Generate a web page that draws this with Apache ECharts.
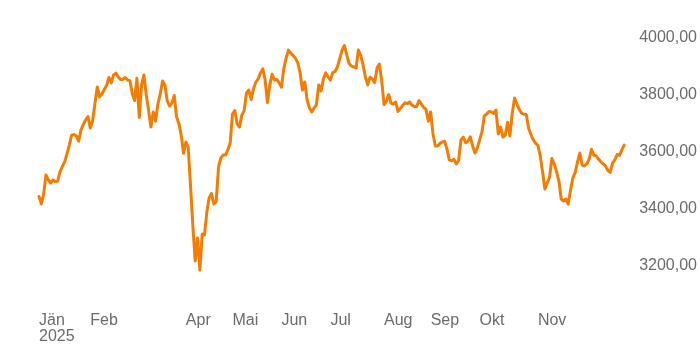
<!DOCTYPE html>
<html>
<head>
<meta charset="utf-8">
<script src="https://cdn.jsdelivr.net/npm/echarts@6/dist/echarts.min.js"></script>
<style>
  html, body { margin: 0; padding: 0; background: #ffffff; }
  #chart { width: 700px; height: 350px; }
</style>
</head>
<body>
<div id="chart"></div>
<script>
// Daily closing values, one per trading day of 2025
const closes = [
  3443, 3417, 3452, 3518, 3501, 3490, 3501, 3495, 3497, 3529,
  3548, 3564, 3592, 3623, 3658, 3660, 3655, 3637, 3676, 3695,
  3711, 3723, 3683, 3708, 3769, 3827, 3792, 3802, 3818, 3832,
  3860, 3841, 3869, 3875, 3862, 3853, 3853, 3860, 3851, 3849,
  3804, 3779, 3857, 3720, 3834, 3869, 3799, 3746, 3686, 3739,
  3707, 3767, 3802, 3848, 3834, 3778, 3760, 3770, 3797, 3722,
  3699, 3658, 3594, 3634, 3615, 3480, 3339, 3217, 3297, 3185,
  3311, 3308, 3389, 3438, 3453, 3417, 3424, 3546, 3578, 3588,
  3588, 3606, 3630, 3732, 3744, 3697, 3686, 3728, 3744, 3806,
  3816, 3783, 3820, 3844, 3855, 3876, 3890, 3851, 3772, 3834,
  3871, 3851, 3853, 3841, 3826, 3890, 3928, 3956, 3946, 3937,
  3928, 3911, 3876, 3816, 3844, 3781, 3753, 3739, 3753, 3765,
  3834, 3813, 3855, 3876, 3862, 3851, 3877, 3881, 3897, 3926,
  3956, 3972, 3939, 3909, 3900, 3897, 3893, 3956, 3937, 3904,
  3862, 3834, 3861, 3854, 3842, 3893, 3907, 3849, 3765, 3777,
  3800, 3770, 3767, 3774, 3741, 3751, 3762, 3771, 3769, 3774,
  3763, 3758, 3758, 3779, 3767, 3755, 3748, 3707, 3739, 3662,
  3620, 3620, 3629, 3634, 3636, 3609, 3571, 3568, 3573, 3557,
  3569, 3641, 3651, 3631, 3637, 3652, 3620, 3595, 3613, 3641,
  3669, 3725, 3732, 3741, 3739, 3734, 3746, 3662, 3686, 3651,
  3658, 3703, 3655, 3735, 3788, 3767, 3748, 3735, 3731, 3730,
  3683, 3660, 3641, 3630, 3622, 3585, 3529, 3469, 3490, 3511,
  3576, 3557, 3530, 3497, 3434, 3427, 3434, 3416, 3466, 3508,
  3527, 3564, 3595, 3553, 3550, 3557, 3574, 3608, 3588, 3585,
  3574, 3564, 3557, 3550, 3534, 3527, 3560, 3571, 3590, 3587,
  3606, 3623
];

// Trading-day index of each month label shown on the time axis
const monthTickIndex = [0, 22, 63, 83, 104, 125, 148, 168, 189, 214];
const monthTickLabel = ['Jän\n2025', 'Feb', 'Apr', 'Mai', 'Jun', 'Jul', 'Aug', 'Sep', 'Okt', 'Nov'];

// Value axis range and label step
const yMin = 3100;
const yMax = 4100;
const yLabelStep = 200;

const categories = closes.map((_, i) => i);
const tickMap = {};
monthTickIndex.forEach((idx, k) => { tickMap[idx] = monthTickLabel[k]; });

const fmt = (v) => v.toFixed(2).replace('.', ',');

const chart = echarts.init(document.getElementById('chart'), null, { renderer: 'canvas' });
chart.setOption({
  animation: false,
  backgroundColor: '#ffffff',
  grid: { left: 39, right: 75, top: 9, bottom: 55.7 },
  xAxis: {
    type: 'category',
    data: categories,
    boundaryGap: false,
    axisLine: { show: false },
    axisTick: { show: false },
    splitLine: { show: false },
    axisLabel: {
      interval: (index) => tickMap.hasOwnProperty(index),
      formatter: (value, index) => tickMap[index] || '',
      align: 'left',
      margin: 18,
      color: '#6b6b6b',
      fontFamily: 'Liberation Sans, Arial, sans-serif',
      fontSize: 16,
      lineHeight: 16
    }
  },
  yAxis: {
    type: 'value',
    position: 'right',
    min: yMin,
    max: yMax,
    interval: 100,
    axisLine: { show: false },
    axisTick: { show: false },
    splitLine: { show: false },
    axisLabel: {
      margin: 15,
      color: '#6b6b6b',
      fontFamily: 'Liberation Sans, Arial, sans-serif',
      fontSize: 16,
      formatter: (v) => (v % yLabelStep === 0 ? fmt(v) : '')
    }
  },
  series: [{
    type: 'line',
    data: closes,
    showSymbol: false,
    symbol: 'none',
    lineStyle: { color: '#f47c00', width: 3, join: 'round', cap: 'round' },
    itemStyle: { color: '#f47c00' }
  }]
});
</script>
</body>
</html>
